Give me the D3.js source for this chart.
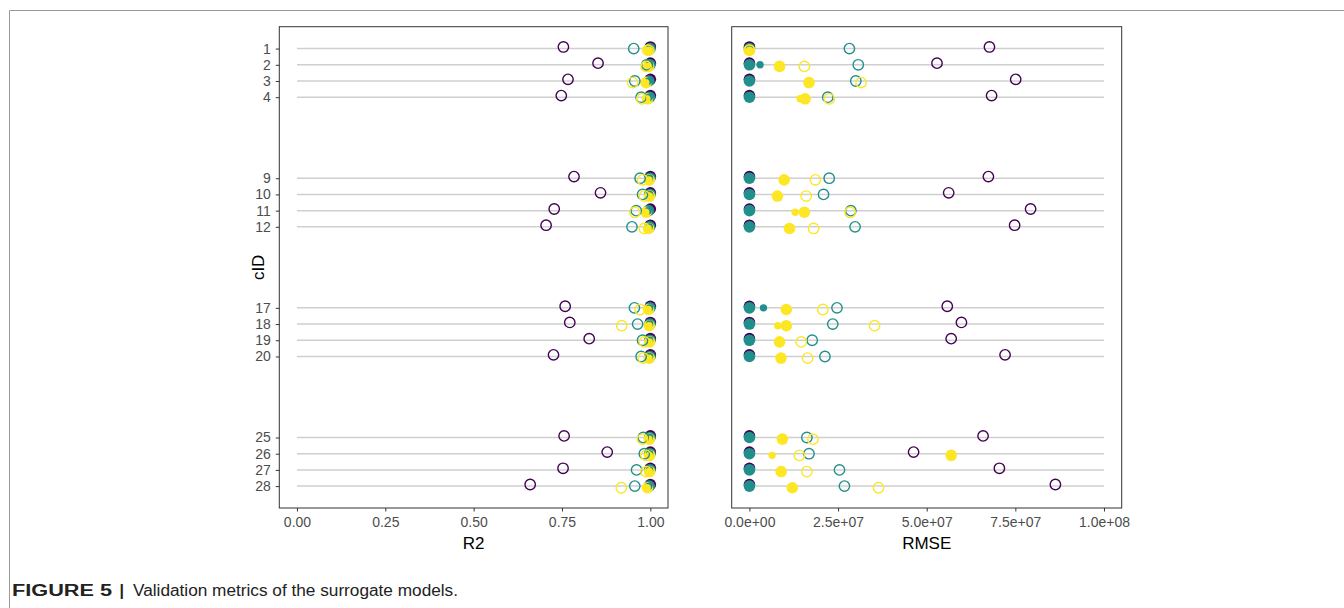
<!DOCTYPE html>
<html>
<head>
<meta charset="utf-8">
<script src="https://cdn.jsdelivr.net/npm/d3@7"></script>
<style>
  body { margin: 0; background: #fff; }
  text { font-family: "Liberation Sans", Arial, sans-serif; }
</style>
</head>
<body>
<svg width="1344" height="608"></svg>
<script>
// cluster ids on the y axis
var cID = [1, 2, 3, 4, 9, 10, 11, 12, 17, 18, 19, 20, 25, 26, 27, 28];

// R2 values (filled = train, small = validation, open = test)
var r2TrainPurple  = [1.000, 1.000, 1.000, 1.000, 1.000, 1.000, 1.000, 1.000, 1.000, 1.000, 1.000, 1.000, 1.000, 1.000, 1.000, 1.000];
var r2TrainTeal    = [0.999, 0.999, 0.996, 0.998, 0.999, 0.999, 0.995, 0.998, 0.999, 0.999, 0.999, 0.999, 0.999, 0.999, 0.999, 0.997];
var r2TrainYellow  = [0.996, 0.995, 0.988, 0.992, 0.997, 0.998, 0.988, 0.995, 0.995, 0.997, 0.998, 0.997, 0.997, 0.998, 0.998, 0.992];
var r2ValTeal      = [0.998, 0.998, 0.995, 0.997, 0.998, 0.998, 0.994, 0.997, 0.998, 0.998, 0.998, 0.998, 0.998, 0.998, 0.998, 0.996];
var r2ValYellow    = [0.995, 0.994, 0.987, 0.990, 0.996, 0.997, 0.987, 0.994, 0.994, 0.996, 0.997, 0.996, 0.996, 0.997, 0.997, 0.991];
var r2TestPurple   = [0.754, 0.852, 0.767, 0.748, 0.784, 0.859, 0.728, 0.705, 0.759, 0.772, 0.827, 0.726, 0.756, 0.878, 0.753, 0.660];
var r2TestTeal     = [0.953, 0.990, 0.956, 0.974, 0.971, 0.978, 0.960, 0.948, 0.955, 0.964, 0.978, 0.974, 0.980, 0.983, 0.961, 0.956];
var r2TestYellow   = [0.993, 0.988, 0.950, 0.976, 0.978, 0.983, 0.956, 0.983, 0.971, 0.919, 0.983, 0.980, 0.978, 0.988, 0.988, 0.918];

// RMSE values
var rmseTrainPurple = [0, 0, 0, 0, 0, 0, 0, 0, 0, 0, 0, 0, 0, 0, 0, 0];
var rmseTrainTeal   = [0, 0, 0, 0, 0, 0, 0, 0, 0, 0, 0, 0, 0, 0, 0, 0];
var rmseTrainYellow = [0, 8.5e6, 1.68e7, 1.57e7, 9.8e6, 7.9e6, 1.55e7, 1.13e7, 1.04e7, 1.04e7, 8.5e6, 8.9e6, 9.3e6, 5.69e7, 8.95e6, 1.21e7];
var rmseValTeal     = [0, 3.0e6, 0, 0, 0, 0, 0, 0, 3.96e6, 0, 0, 0, 0, 0, 0, 0];
var rmseValYellow   = [0, 8.5e6, 1.68e7, 1.43e7, 9.8e6, 7.9e6, 1.29e7, 1.13e7, 1.04e7, 8.0e6, 8.5e6, 8.9e6, 9.3e6, 6.4e6, 8.95e6, 1.21e7];
var rmseTestPurple  = [6.77e7, 5.29e7, 7.51e7, 6.83e7, 6.74e7, 5.62e7, 7.93e7, 7.48e7, 5.58e7, 5.98e7, 5.69e7, 7.21e7, 6.59e7, 4.63e7, 7.05e7, 8.63e7];
var rmseTestTeal    = [2.82e7, 3.07e7, 3.0e7, 2.21e7, 2.25e7, 2.09e7, 2.86e7, 2.98e7, 2.47e7, 2.35e7, 1.77e7, 2.13e7, 1.62e7, 1.68e7, 2.54e7, 2.68e7];
var rmseTestYellow  = [0, 1.55e7, 3.15e7, 2.25e7, 1.86e7, 1.6e7, 2.84e7, 1.81e7, 2.07e7, 3.53e7, 1.46e7, 1.64e7, 1.79e7, 1.41e7, 1.62e7, 3.64e7];

var r2Ticks = [0, 0.25, 0.5, 0.75, 1];
var rmseTicks = [0, 2.5e7, 5e7, 7.5e7, 1e8];

var purple = "#440154", teal = "#21908C", yellow = "#FDE725";

var svg = d3.select("svg");

// figure frame
svg.append("line").attr("x1", 9.5).attr("x2", 1344).attr("y1", 10.5).attr("y2", 10.5)
  .attr("stroke", "#9a9a9a").attr("stroke-width", 1);
svg.append("line").attr("x1", 9.5).attr("x2", 9.5).attr("y1", 10.5).attr("y2", 608)
  .attr("stroke", "#9a9a9a").attr("stroke-width", 1);

// shared y scale
var y = d3.scaleLinear().domain([-0.35, 29.35]).range([26.7, 508]);
var dodge = { purple: -0.1, teal: 0, yellow: 0.1 };

function drawPanel(x, lineMax, ticks, fmt, title, series) {
  var g = svg.append("g");

  // gray guide lines
  g.selectAll(".guide").data(cID).enter().append("line")
    .attr("x1", x(0)).attr("x2", x(lineMax))
    .attr("y1", function(d) { return y(d); }).attr("y2", function(d) { return y(d); })
    .attr("stroke", "#cfcfcf").attr("stroke-width", 1.5);

  series.forEach(function(s) {
    g.selectAll(null).data(s.values).enter().append("circle")
      .attr("cx", function(d) { return x(d); })
      .attr("cy", function(d, i) { return y(cID[i] + dodge[s.group]); })
      .attr("r", s.kind === "open" ? 5.2 : (s.kind === "small" ? 3.7 : 5.8))
      .attr("fill", s.kind === "open" ? "none" : s.color)
      .attr("stroke", s.kind === "open" ? s.color : "none")
      .attr("stroke-width", 1.4);
  });

  // panel border
  var r = x.range();
  g.append("rect").attr("x", r[0]).attr("y", y.range()[0])
    .attr("width", r[1] - r[0]).attr("height", y.range()[1] - y.range()[0])
    .attr("fill", "none").attr("stroke", "#333").attr("stroke-width", 1);

  var ax = g.append("g").attr("transform", "translate(0," + y.range()[1] + ")")
    .call(d3.axisBottom(x).tickValues(ticks).tickFormat(fmt).tickSize(3.5).tickPadding(5.5));
  ax.select(".domain").remove();
  ax.selectAll(".tick line").attr("stroke", "#333");
  ax.selectAll(".tick text").attr("fill", "#4d4d4d").style("font-size", "14px")
    .style("font-family", "Liberation Sans, Arial, sans-serif");

  g.append("text").attr("x", (r[0] + r[1]) / 2).attr("y", 549)
    .attr("text-anchor", "middle").style("font-size", "17px").attr("fill", "#000").text(title);
}

var xR2 = d3.scaleLinear().domain([-0.05, 1.05]).range([279.3, 668]);
var xRmse = d3.scaleLinear().domain([-5e6, 1.05e8]).range([731.7, 1121.7]);

drawPanel(xR2, 1, r2Ticks, d3.format(".2f"), "R2", [
  { values: r2TrainPurple, color: purple, group: "purple", kind: "filled" },
  { values: r2TrainTeal, color: teal, group: "teal", kind: "filled" },
  { values: r2TrainYellow, color: yellow, group: "yellow", kind: "filled" },
  { values: r2ValTeal, color: teal, group: "teal", kind: "small" },
  { values: r2ValYellow, color: yellow, group: "yellow", kind: "small" },
  { values: r2TestPurple, color: purple, group: "purple", kind: "open" },
  { values: r2TestTeal, color: teal, group: "teal", kind: "open" },
  { values: r2TestYellow, color: yellow, group: "yellow", kind: "open" }
]);

drawPanel(xRmse, 1e8, rmseTicks, function(d) {
  return d3.format(".1e")(d).replace(/e([+-])(\d)$/, "e$10$2");
}, "RMSE", [
  { values: rmseTrainPurple, color: purple, group: "purple", kind: "filled" },
  { values: rmseTrainTeal, color: teal, group: "teal", kind: "filled" },
  { values: rmseTrainYellow, color: yellow, group: "yellow", kind: "filled" },
  { values: rmseValTeal, color: teal, group: "teal", kind: "small" },
  { values: rmseValYellow, color: yellow, group: "yellow", kind: "small" },
  { values: rmseTestPurple, color: purple, group: "purple", kind: "open" },
  { values: rmseTestTeal, color: teal, group: "teal", kind: "open" },
  { values: rmseTestYellow, color: yellow, group: "yellow", kind: "open" }
]);

// y axis on the left panel
var yAx = svg.append("g").attr("transform", "translate(279.3,0)")
  .call(d3.axisLeft(y).tickValues(cID).tickSize(3.5).tickPadding(5));
yAx.select(".domain").remove();
yAx.selectAll(".tick line").attr("stroke", "#333");
yAx.selectAll(".tick text").attr("fill", "#4d4d4d").style("font-size", "14px")
  .style("font-family", "Liberation Sans, Arial, sans-serif");

svg.append("text").attr("transform", "translate(264," + ((26.7 + 508) / 2) + ") rotate(-90)")
  .attr("text-anchor", "middle").style("font-size", "17px").text("cID");

// caption (wide font in the original, so stretch to its width)
svg.append("text").attr("x", 12).attr("y", 595.5).style("font-size", "16px").style("font-weight", "bold")
  .attr("fill", "#222").attr("textLength", 100).attr("lengthAdjust", "spacingAndGlyphs").text("FIGURE 5");
svg.append("text").attr("x", 119.5).attr("y", 595.5).style("font-size", "16px").style("font-weight", "bold")
  .attr("fill", "#222").text("|");
svg.append("text").attr("x", 133).attr("y", 595.5).style("font-size", "16px")
  .attr("fill", "#222").attr("textLength", 325).attr("lengthAdjust", "spacingAndGlyphs")
  .text("Validation metrics of the surrogate models.");
</script>
</body>
</html>
